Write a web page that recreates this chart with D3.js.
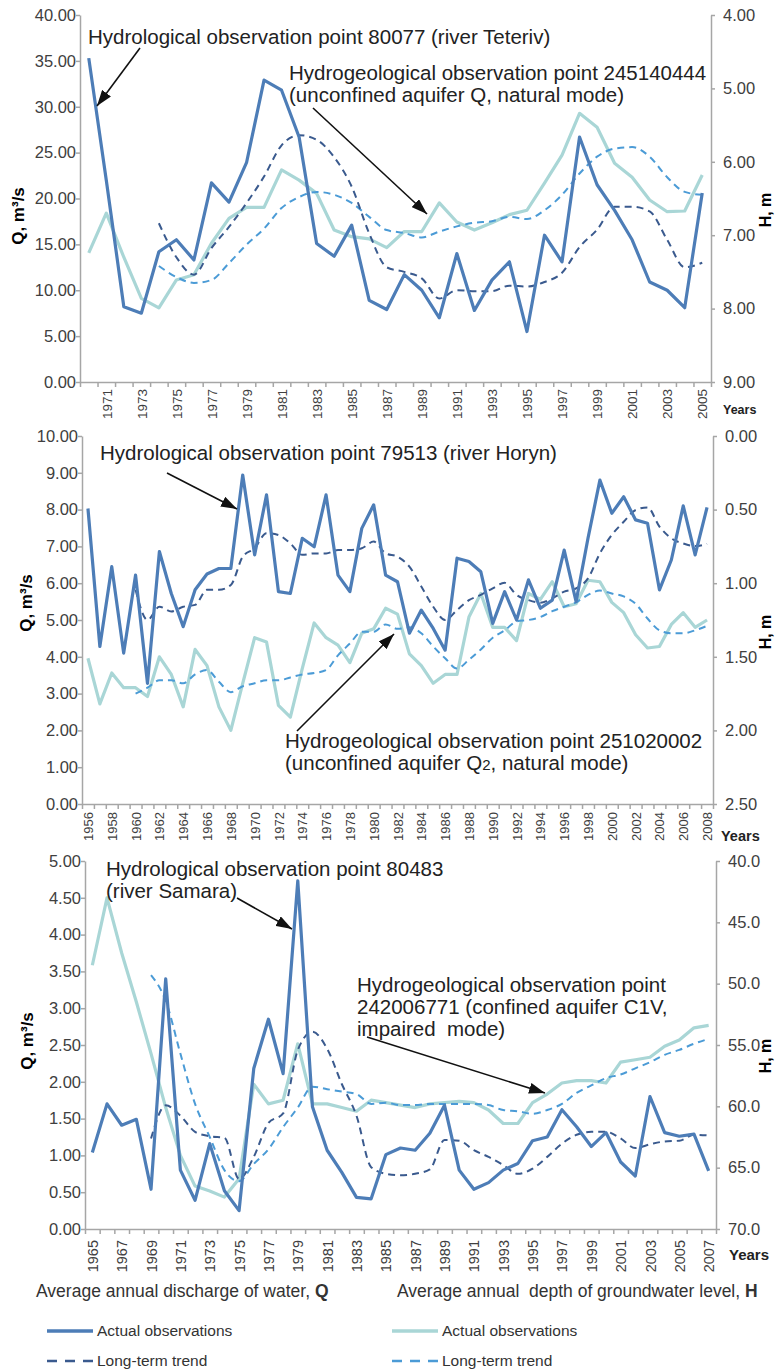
<!DOCTYPE html>
<html>
<head>
<meta charset="utf-8">
<script src="https://cdn.jsdelivr.net/npm/d3@7"></script>
<style>
  body { margin: 0; background: #fff; }
  svg text { font-family: "Liberation Sans", Arial, sans-serif; }
  .tick text { fill: #404040; }
  .axis path, .axis line { stroke: #a6a6a6; stroke-width: 1.5; }
</style>
</head>
<body>
<div class="main_area"></div>
<script>
// ---- panel 1: river Teteriv / well 245140444
const p1Years = d3.range(1970, 2006);
const p1Q = [35.3, 22.0, 8.2, 7.5, 14.2, 15.5, 13.3, 21.7, 19.6, 23.9,
  32.9, 31.8, 26.7, 15.1, 13.7, 17.1, 8.9, 7.9, 11.7, 10.0,
  7.0, 14.0, 7.8, 11.1, 13.1, 5.5, 16.0, 13.1, 26.7, 21.5,
  18.7, 15.5, 10.9, 10.0, 8.1, 20.6];
const p1QTrend = [null, null, null, null, 17.3, 13.6, 11.7, 14.6, 16.9, 19.5,
  22.4, 25.8, 26.9, 26.4, 24.5, 21.3, 16.2, 12.5, 12.0, 11.3,
  9.1, 10.0, 9.9, 9.9, 10.5, 10.4, 10.9, 11.9, 14.7, 16.6,
  19.1, 19.1, 18.6, 15.5, 12.5, 13.0];
const p1H = [7.24, 6.70, 7.30, 7.86, 7.99, 7.61, 7.54, 7.11, 6.77, 6.62,
  6.62, 6.11, 6.25, 6.43, 6.93, 7.02, 7.05, 7.17, 6.95, 6.95,
  6.56, 6.82, 6.93, 6.83, 6.72, 6.66, 6.29, 5.91, 5.34, 5.53,
  6.02, 6.21, 6.52, 6.68, 6.67, 6.18];
const p1HTrend = [null, null, null, null, 7.42, 7.57, 7.65, 7.61, 7.38, 7.13,
  6.91, 6.63, 6.48, 6.41, 6.45, 6.56, 6.75, 6.93, 6.97, 7.03,
  6.95, 6.88, 6.83, 6.81, 6.75, 6.78, 6.66, 6.45, 6.16, 5.93,
  5.82, 5.80, 5.93, 6.21, 6.41, 6.45];
const p1QTicks = [0, 5, 10, 15, 20, 25, 30, 35, 40];
const p1HTicks = [4, 5, 6, 7, 8, 9];
const p1YearLabels = [1971, 1973, 1975, 1977, 1979, 1981, 1983, 1985, 1987, 1989,
  1991, 1993, 1995, 1997, 1999, 2001, 2003, 2005];

// ---- panel 2: river Horyn / well 251020002
const p2Years = d3.range(1956, 2009);
const p2Q = [8.03, 4.28, 6.45, 4.10, 6.22, 3.28, 6.86, 5.72, 4.82, 5.82,
  6.25, 6.40, 6.40, 8.94, 6.77, 8.40, 5.77, 5.72, 7.22, 6.99,
  8.40, 6.22, 5.77, 7.49, 8.13, 6.22, 6.04, 4.64, 5.27, 4.77,
  4.18, 6.68, 6.59, 6.31, 4.91, 5.77, 5.00, 6.09, 5.32, 5.54,
  6.90, 5.50, 7.22, 8.80, 7.90, 8.35, 7.72, 7.63, 5.82, 6.63,
  8.10, 6.77, 8.06];
const p2QTrend = [null, null, null, null, 5.82, 5.00, 5.36, 5.23, 5.36, 5.41,
  5.82, 5.82, 5.95, 6.72, 6.95, 7.36, 7.31, 7.08, 6.77, 6.81,
  6.81, 6.90, 6.90, 6.95, 7.13, 6.81, 6.72, 6.45, 5.91, 5.36,
  5.00, 5.27, 5.54, 5.68, 5.86, 6.01, 5.68, 5.54, 5.47, 5.59,
  5.77, 5.86, 6.13, 6.81, 7.31, 7.67, 7.99, 8.06, 7.54, 7.22,
  7.08, 7.01, 7.07];
const p2H = [1.51, 1.82, 1.61, 1.71, 1.71, 1.77, 1.50, 1.62, 1.84, 1.45,
  1.56, 1.84, 2.00, 1.68, 1.37, 1.40, 1.83, 1.91, 1.58, 1.27,
  1.37, 1.42, 1.54, 1.34, 1.31, 1.17, 1.21, 1.48, 1.56, 1.68,
  1.62, 1.62, 1.23, 1.07, 1.30, 1.30, 1.39, 1.07, 1.11, 0.99,
  1.16, 1.14, 0.98, 0.99, 1.13, 1.20, 1.35, 1.44, 1.43, 1.28,
  1.20, 1.30, 1.25];
const p2HTrend = [null, null, null, null, 1.75, 1.71, 1.66, 1.66, 1.68, 1.62,
  1.59, 1.67, 1.74, 1.70, 1.68, 1.66, 1.66, 1.64, 1.62, 1.61,
  1.59, 1.49, 1.41, 1.33, 1.33, 1.28, 1.31, 1.30, 1.34, 1.43,
  1.51, 1.58, 1.52, 1.45, 1.37, 1.32, 1.26, 1.25, 1.23, 1.19,
  1.16, 1.13, 1.08, 1.05, 1.07, 1.09, 1.14, 1.24, 1.32, 1.34,
  1.34, 1.32, 1.29];
const p2QTicks = [0, 1, 2, 3, 4, 5, 6, 7, 8, 9, 10];
const p2HTicks = [0, 0.5, 1, 1.5, 2, 2.5];
const p2YearLabels = [1956, 1958, 1960, 1962, 1964, 1966, 1968, 1970, 1972, 1974,
  1976, 1978, 1980, 1982, 1984, 1986, 1988, 1990, 1992, 1994,
  1996, 1998, 2000, 2002, 2004, 2006, 2008];

// ---- panel 3: river Samara / well 242006771
const p3Years = d3.range(1965, 2008);
const p3Q = [1.04, 1.70, 1.41, 1.49, 0.54, 3.40, 0.80, 0.39, 1.16, 0.52,
  0.25, 2.18, 2.85, 2.11, 4.73, 1.66, 1.07, 0.77, 0.43, 0.41,
  1.01, 1.10, 1.07, 1.30, 1.68, 0.80, 0.54, 0.63, 0.80, 0.89,
  1.20, 1.25, 1.62, 1.39, 1.12, 1.31, 0.91, 0.72, 1.80, 1.31,
  1.26, 1.29, 0.79];
const p3QTrend = [null, null, null, null, 1.23, 1.68, 1.54, 1.32, 1.26, 1.24,
  0.68, 0.98, 1.44, 1.57, 2.43, 2.68, 2.45, 1.97, 1.54, 0.84,
  0.75, 0.73, 0.75, 0.81, 1.21, 1.20, 1.07, 0.98, 0.87, 0.75,
  0.82, 0.98, 1.16, 1.28, 1.32, 1.32, 1.23, 1.10, 1.15, 1.19,
  1.20, 1.28, 1.27];
const p3H = [48.5, 43.0, 47.5, 51.5, 55.7, 60.1, 64.0, 66.5, 66.9, 67.4,
  65.9, 58.2, 59.8, 59.5, 54.9, 59.8, 59.8, 60.1, 60.4, 59.5,
  59.7, 59.9, 60.1, 59.8, 59.7, 59.6, 59.7, 60.3, 61.4, 61.4,
  59.7, 59.0, 58.1, 57.9, 57.9, 58.1, 56.4, 56.2, 56.0, 55.1,
  54.6, 53.6, 53.4];
const p3HTrend = [null, null, null, null, 49.3, 51.4, 55.7, 59.8, 62.5, 65.2,
  66.1, 64.7, 63.5, 61.7, 60.1, 58.4, 58.6, 58.8, 59.0, 59.8,
  59.7, 59.9, 59.9, 59.8, 59.8, 59.8, 59.8, 59.9, 60.3, 60.4,
  60.6, 60.3, 59.8, 58.9, 58.3, 57.7, 57.4, 56.9, 56.4, 55.8,
  55.4, 54.9, 54.5];
const p3QTicks = [0, 0.5, 1, 1.5, 2, 2.5, 3, 3.5, 4, 4.5, 5];
const p3HTicks = [40, 45, 50, 55, 60, 65, 70];
const p3YearLabels = [1965, 1967, 1969, 1971, 1973, 1975, 1977, 1979, 1981, 1983,
  1985, 1987, 1989, 1991, 1993, 1995, 1997, 1999, 2001, 2003, 2005, 2007];

const qColor = "#4d7db7",
  hColor = "#a9d6d6",
  qTrendColor = "#3a5a8e",
  hTrendColor = "#4b9bd6";

const svg = d3.select(".main_area")
  .append("svg")
  .attr("width", 776)
  .attr("height", 1371);

svg.append("defs").append("marker")
  .attr("id", "arrow")
  .attr("viewBox", "0 0 16 11")
  .attr("refX", 16)
  .attr("refY", 5.5)
  .attr("markerWidth", 16)
  .attr("markerHeight", 11)
  .attr("markerUnits", "userSpaceOnUse")
  .attr("orient", "auto")
  .append("path")
  .attr("d", "M0,0 L16,5.5 L0,11 Z")
  .attr("fill", "#111");

function drawPanel(cfg) {
  const years = cfg.years;
  const x = d3.scaleLinear()
    .domain([years[0] - 0.5, years[years.length - 1] + 0.5])
    .range([cfg.left, cfg.right]);
  const yQ = d3.scaleLinear().domain(cfg.qDomain).range([cfg.bottom, cfg.top]);
  const yH = d3.scaleLinear().domain(cfg.hDomain).range([cfg.top, cfg.bottom]);

  const g = svg.append("g").attr("class", "panel");

  // x axis: ticks between years, labels on selected years
  const boundaries = years.map(d => d - 0.5).concat([years[years.length - 1] + 0.5]);
  g.append("g")
    .attr("class", "axis")
    .attr("transform", "translate(0," + cfg.bottom + ")")
    .call(d3.axisBottom(x).tickValues(boundaries).tickFormat("").tickSizeInner(5).tickSizeOuter(0));

  const xLabels = g.append("g")
    .attr("transform", "translate(0," + cfg.bottom + ")")
    .call(d3.axisBottom(x).tickValues(cfg.yearLabels).tickFormat(d3.format("d")).tickSize(0));
  xLabels.select(".domain").remove();
  xLabels.selectAll("text")
    .attr("transform", "rotate(-90)")
    .attr("text-anchor", "end")
    .attr("x", -cfg.xLabelGap)
    .attr("y", 0)
    .attr("dy", "0.35em")
    .style("font-size", cfg.xLabelSize + "px");

  // left axis (Q)
  g.append("g")
    .attr("class", "axis")
    .attr("transform", "translate(" + cfg.left + ",0)")
    .call(d3.axisLeft(yQ).tickValues(cfg.qTicks).tickFormat(d3.format(".2f"))
      .tickSizeInner(4).tickSizeOuter(0).tickPadding(0))
    .selectAll("text").style("font-size", "16.5px");

  // right axis (H)
  g.append("g")
    .attr("class", "axis")
    .attr("transform", "translate(" + cfg.right + ",0)")
    .call(d3.axisRight(yH).tickValues(cfg.hTicks).tickFormat(d3.format(cfg.hFormat))
      .tickSizeInner(4).tickSizeOuter(0).tickPadding(8))
    .selectAll("text").style("font-size", "16.5px");

  // axis titles
  g.append("text")
    .attr("transform", "translate(" + [cfg.qTitle[0], cfg.qTitle[1]] + ") rotate(-90)")
    .attr("text-anchor", "middle")
    .attr("dy", "0.35em")
    .style("font-size", "17px")
    .style("font-weight", "bold")
    .text("Q, m³/s");

  g.append("text")
    .attr("transform", "translate(" + [cfg.hTitle[0], cfg.hTitle[1]] + ") rotate(-90)")
    .attr("text-anchor", "middle")
    .attr("dy", "0.35em")
    .style("font-size", "16px")
    .style("font-weight", "bold")
    .text("H, m");

  g.append("text")
    .attr("x", cfg.yearsPos[0])
    .attr("y", cfg.yearsPos[1])
    .attr("dy", "0.35em")
    .style("font-size", cfg.yearsSize + "px")
    .style("font-weight", "bold")
    .style("fill", "#222")
    .text("Years");

  // series
  const qLine = d3.line()
    .defined(d => d[1] != null)
    .x(d => x(d[0]))
    .y(d => yQ(d[1]));
  const hLine = d3.line()
    .defined(d => d[1] != null)
    .x(d => x(d[0]))
    .y(d => yH(d[1]));

  const pairs = vals => years.map((yr, i) => [yr, vals[i]]);

  g.append("path")
    .attr("d", hLine.curve(d3.curveLinear)(pairs(cfg.h)))
    .attr("fill", "none").attr("stroke", hColor).attr("stroke-width", 3.2)
    .attr("stroke-linejoin", "round");
  g.append("path")
    .attr("d", hLine.curve(d3.curveMonotoneX)(pairs(cfg.hTrend)))
    .attr("fill", "none").attr("stroke", hTrendColor).attr("stroke-width", 2)
    .attr("stroke-dasharray", "7,5");
  g.append("path")
    .attr("d", qLine.curve(d3.curveMonotoneX)(pairs(cfg.qTrend)))
    .attr("fill", "none").attr("stroke", qTrendColor).attr("stroke-width", 2)
    .attr("stroke-dasharray", "7,5");
  g.append("path")
    .attr("d", qLine.curve(d3.curveLinear)(pairs(cfg.q)))
    .attr("fill", "none").attr("stroke", qColor).attr("stroke-width", 3.2)
    .attr("stroke-linejoin", "round");

  // annotations
  cfg.notes.forEach(function(n) {
    const t = g.append("text")
      .attr("x", n.x)
      .attr("y", n.y)
      .attr("xml:space", "preserve")
      .style("font-size", "20.5px")
      .style("fill", "#222");
    n.lines.forEach(function(line, i) {
      const ts = t.append("tspan").attr("x", n.x).attr("dy", i === 0 ? 0 : 22);
      if (line.indexOf("Q2") >= 0) {
        const parts = line.split("Q2");
        ts.text(parts[0] + "Q");
        ts.append("tspan").style("font-size", "15px").text("2");
        ts.append("tspan").text(parts[1]);
      } else {
        ts.text(line);
      }
    });
    g.append("line")
      .attr("x1", n.arrow[0]).attr("y1", n.arrow[1])
      .attr("x2", n.arrow[2]).attr("y2", n.arrow[3])
      .attr("stroke", "#111").attr("stroke-width", 1.6)
      .attr("marker-end", "url(#arrow)");
  });
}

drawPanel({
  years: p1Years, q: p1Q, qTrend: p1QTrend, h: p1H, hTrend: p1HTrend,
  left: 80, right: 711, top: 15, bottom: 382,
  qDomain: [0, 40], hDomain: [4, 9], qTicks: p1QTicks, hTicks: p1HTicks, hFormat: ".2f",
  yearLabels: p1YearLabels, xLabelGap: 7, xLabelSize: 13.5,
  qTitle: [18, 216], hTitle: [765, 210], yearsPos: [723, 410], yearsSize: 12.5,
  notes: [
    { x: 88, y: 44, lines: ["Hydrological observation point 80077 (river Teteriv)"], arrow: [140, 48, 97, 106] },
    { x: 289, y: 80, lines: ["Hydrogeological observation point 245140444", "(unconfined aquifer Q, natural mode)"], arrow: [313, 108, 427, 214] }
  ]
});

drawPanel({
  years: p2Years, q: p2Q, qTrend: p2QTrend, h: p2H, hTrend: p2HTrend,
  left: 82, right: 713, top: 436, bottom: 804,
  qDomain: [0, 10], hDomain: [0, 2.5], qTicks: p2QTicks, hTicks: p2HTicks, hFormat: ".2f",
  yearLabels: p2YearLabels, xLabelGap: 8, xLabelSize: 13,
  qTitle: [26, 603], hTitle: [765, 632], yearsPos: [721, 836], yearsSize: 14.5,
  notes: [
    { x: 100, y: 460, lines: ["Hydrological observation point 79513 (river Horyn)"], arrow: [167, 473, 237, 509] },
    { x: 285, y: 748, lines: ["Hydrogeological observation point 251020002", "(unconfined aquifer Q2, natural mode)"], arrow: [297, 731, 394, 634] }
  ]
});

drawPanel({
  years: p3Years, q: p3Q, qTrend: p3QTrend, h: p3H, hTrend: p3HTrend,
  left: 85, right: 716, top: 861, bottom: 1229,
  qDomain: [0, 5], hDomain: [40, 70], qTicks: p3QTicks, hTicks: p3HTicks, hFormat: ".1f",
  yearLabels: p3YearLabels, xLabelGap: 11, xLabelSize: 14.5,
  qTitle: [27, 1041], hTitle: [765, 1056], yearsPos: [729, 1255], yearsSize: 15,
  notes: [
    { x: 106, y: 876, lines: ["Hydrological observation point 80483", "(river Samara)"], arrow: [237, 898, 292, 929] },
    { x: 357, y: 992, lines: ["Hydrogeological observation point", "242006771 (confined aquifer C1V,", "impaired  mode)"], arrow: [367, 1037, 545, 1093] }
  ]
});

// ---- legend
const legend = svg.append("g").style("font-family", "Lato, 'Liberation Sans', sans-serif").style("fill", "#333");

const headers = [
  { x: 36, text: "Average annual discharge of water, ", bold: "Q" },
  { x: 397, text: "Average annual  depth of groundwater level, ", bold: "H" }
];
headers.forEach(function(h) {
  const t = legend.append("text").attr("x", h.x).attr("y", 1297)
    .attr("xml:space", "preserve").style("font-size", "17.5px");
  t.append("tspan").text(h.text);
  t.append("tspan").style("font-weight", "bold").text(h.bold);
});

const legendItems = [
  { x: 47, y: 1331, color: qColor, dash: null, width: 3.5, label: "Actual observations" },
  { x: 47, y: 1361, color: qTrendColor, dash: "10,8", width: 2.5, label: "Long-term trend" },
  { x: 392, y: 1331, color: hColor, dash: null, width: 3.5, label: "Actual observations" },
  { x: 392, y: 1361, color: hTrendColor, dash: "10,8", width: 2.5, label: "Long-term trend" }
];
legendItems.forEach(function(d) {
  legend.append("line")
    .attr("x1", d.x).attr("x2", d.x + 46)
    .attr("y1", d.y).attr("y2", d.y)
    .attr("stroke", d.color).attr("stroke-width", d.width)
    .attr("stroke-dasharray", d.dash);
  legend.append("text")
    .attr("x", d.x + 50).attr("y", d.y + 5)
    .style("font-size", "15.5px")
    .text(d.label);
});
</script>
</body>
</html>
